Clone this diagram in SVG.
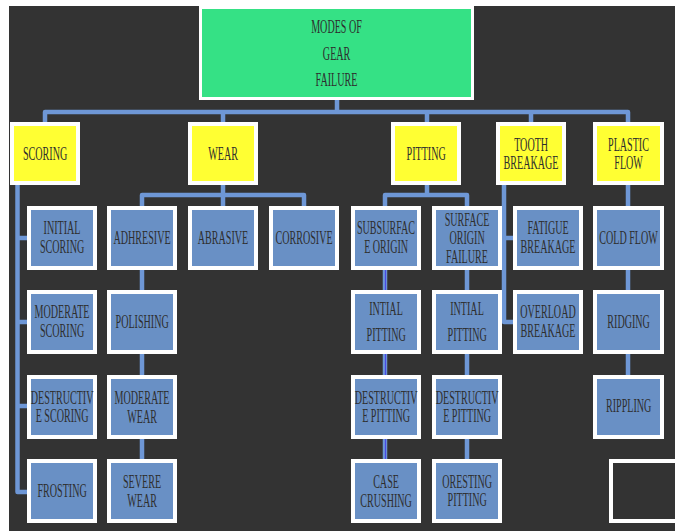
<svg xmlns="http://www.w3.org/2000/svg" width="675" height="531" viewBox="0 0 675 531">
<style>
.bg{fill:#333333}
.root{fill:#35e185;stroke:#ffffff;stroke-width:3}
.y{fill:#ffff33;stroke:#ffffff;stroke-width:4}
.b{fill:#6990c5;stroke:#ffffff;stroke-width:4}
.e{fill:#333333;stroke:#ffffff;stroke-width:4}
.c{fill:none;stroke:#6e97d6;stroke-width:4.5;stroke-linejoin:round;stroke-linecap:butt}
.c2{fill:none;stroke:#4a4ae6;stroke-width:1.2}
text{font-family:"Liberation Serif","Times New Roman",serif;font-size:18px;fill:#2e2e2e;text-anchor:middle;transform-box:fill-box;transform-origin:center;transform:scaleX(0.56)}
</style>
<rect x="0" y="0" width="675" height="531" fill="#ffffff"/>
<rect class="bg" x="9" y="6" width="666" height="525"/>
<g id="connectors">
<path class="c" d="M337,100 V112 M45,122 V112 H628 V122 M223,112 V122 M427,112 V122 M531,112 V122"/>
<path class="c" d="M17.5,185 V492 H27 M17.5,238 H27 M17.5,322 H27 M17.5,406 H27"/>
<path class="c" d="M223,185 V195 M142,206 V195 H304 V206 M223,195 V206 M142,270 V459"/>
<path class="c" d="M427,185 V195 M385,206 V195 H467 V206 M385,270 V459 M467,270 V459"/>
<path class="c2" d="M385.5,270 V290 M385.5,354 V375 M385.5,439 V459"/>
<path class="c" d="M504,185 V322 H513 M504,238 H513"/>
<path class="c" d="M628,185 V375"/>
</g>
<g id="root"><rect class="root" x="200.5" y="7.5" width="272" height="91"/><text x="336.5" y="33">MODES OF</text><text x="336.5" y="60">GEAR</text><text x="336.5" y="86">FAILURE</text></g>
<g id="scoring"><rect class="y" x="12" y="124" width="66" height="59"/><text x="45" y="160">SCORING</text></g>
<g id="wear"><rect class="y" x="190" y="124" width="66" height="59"/><text x="223" y="160">WEAR</text></g>
<g id="pitting"><rect class="y" x="393" y="124" width="66" height="59"/><text x="426" y="160">PITTING</text></g>
<g id="tooth-breakage"><rect class="y" x="498" y="124" width="66" height="59"/><text x="531" y="151">TOOTH</text><text x="531" y="169">BREAKAGE</text></g>
<g id="plastic-flow"><rect class="y" x="595" y="124" width="67" height="59"/><text x="628.5" y="151">PLASTIC</text><text x="628.5" y="169">FLOW</text></g>
<g id="initial-scoring"><rect class="b" x="29" y="208" width="66" height="60"/><text x="62" y="234">INITIAL</text><text x="62" y="253">SCORING</text></g>
<g id="adhresive"><rect class="b" x="109" y="208" width="66" height="60"/><text x="142" y="244">ADHRESIVE</text></g>
<g id="abrasive"><rect class="b" x="190" y="208" width="66" height="60"/><text x="223" y="244">ABRASIVE</text></g>
<g id="corrosive"><rect class="b" x="271" y="208" width="66" height="60"/><text x="304" y="244">CORROSIVE</text></g>
<g id="subsurface-origin"><rect class="b" x="353" y="208" width="66" height="60"/><text x="386" y="234">SUBSURFAC</text><text x="386" y="253">E ORIGIN</text></g>
<g id="surface-origin-failure"><rect class="b" x="434" y="208" width="66" height="60"/><text x="467" y="226">SURFACE</text><text x="467" y="244">ORIGIN</text><text x="467" y="263">FAILURE</text></g>
<g id="fatigue-breakage"><rect class="b" x="515" y="208" width="66" height="60"/><text x="548" y="234">FATIGUE</text><text x="548" y="253">BREAKAGE</text></g>
<g id="cold-flow"><rect class="b" x="595" y="208" width="67" height="60"/><text x="628.5" y="244">COLD FLOW</text></g>
<g id="moderate-scoring"><rect class="b" x="29" y="292" width="66" height="60"/><text x="62" y="318">MODERATE</text><text x="62" y="337">SCORING</text></g>
<g id="polishing"><rect class="b" x="109" y="292" width="66" height="60"/><text x="142" y="328">POLISHING</text></g>
<g id="intial-pitting-1"><rect class="b" x="353" y="292" width="66" height="60"/><text x="386" y="315">INTIAL</text><text x="386" y="341">PITTING</text></g>
<g id="intial-pitting-2"><rect class="b" x="434" y="292" width="66" height="60"/><text x="467" y="315">INTIAL</text><text x="467" y="341">PITTING</text></g>
<g id="overload-breakage"><rect class="b" x="515" y="292" width="66" height="60"/><text x="548" y="318">OVERLOAD</text><text x="548" y="337">BREAKAGE</text></g>
<g id="ridging"><rect class="b" x="595" y="292" width="67" height="60"/><text x="628.5" y="328">RIDGING</text></g>
<g id="destructive-scoring"><rect class="b" x="29" y="377" width="66" height="60"/><text x="62" y="404">DESTRUCTIV</text><text x="62" y="422">E SCORING</text></g>
<g id="moderate-wear"><rect class="b" x="109" y="377" width="66" height="60"/><text x="142" y="404">MODERATE</text><text x="142" y="423">WEAR</text></g>
<g id="destructive-pitting-1"><rect class="b" x="353" y="377" width="66" height="60"/><text x="386" y="404">DESTRUCTIV</text><text x="386" y="422">E PITTING</text></g>
<g id="destructive-pitting-2"><rect class="b" x="434" y="377" width="66" height="60"/><text x="467" y="404">DESTRUCTIV</text><text x="467" y="422">E PITTING</text></g>
<g id="rippling"><rect class="b" x="595" y="377" width="67" height="60"/><text x="628.5" y="412">RIPPLING</text></g>
<g id="frosting"><rect class="b" x="29" y="461" width="66" height="60"/><text x="62" y="497">FROSTING</text></g>
<g id="severe-wear"><rect class="b" x="109" y="461" width="66" height="60"/><text x="142" y="488">SEVERE</text><text x="142" y="507">WEAR</text></g>
<g id="case-crushing"><rect class="b" x="353" y="461" width="66" height="60"/><text x="386" y="488">CASE</text><text x="386" y="507">CRUSHING</text></g>
<g id="oresting-pitting"><rect class="b" x="434" y="461" width="66" height="60"/><text x="467" y="488">ORESTING</text><text x="467" y="506">PITTING</text></g>
<g id="empty-box"><rect class="e" x="611" y="461" width="80" height="60"/></g>
</svg>
